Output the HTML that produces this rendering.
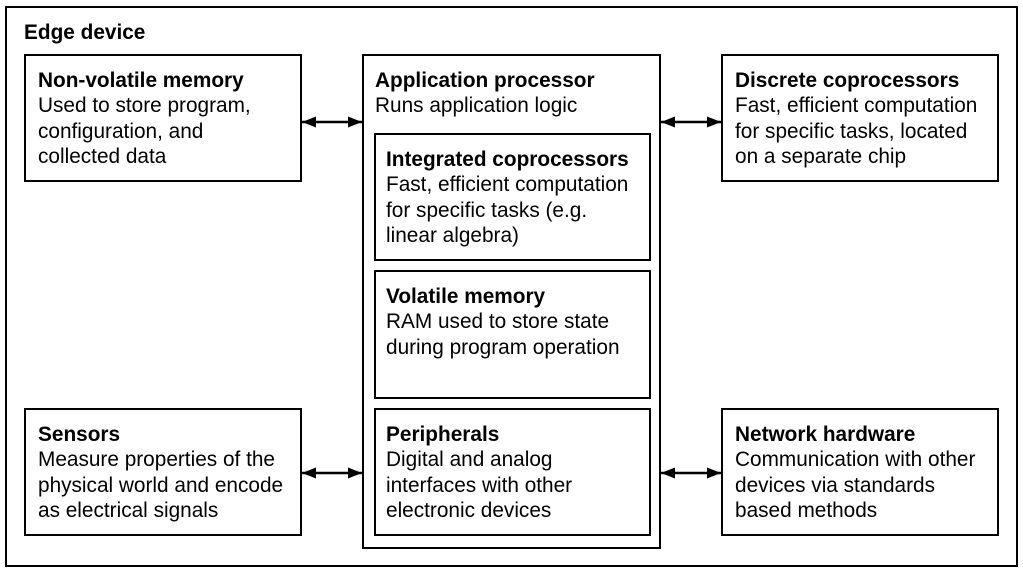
<!DOCTYPE html>
<html><head><meta charset="utf-8"><style>
html,body{margin:0;padding:0;background:#fff;}
svg{display:block;}
text{font-family:"Liberation Sans",Arial,sans-serif;font-size:20.8px;fill:#000;}
.b{font-weight:bold;}
</style></head><body>
<svg width="1023" height="573" viewBox="0 0 1023 573" xmlns="http://www.w3.org/2000/svg">
<defs>
<marker id="a" viewBox="0 0 14 12" refX="14" refY="6" markerWidth="14" markerHeight="12" markerUnits="userSpaceOnUse" orient="auto-start-reverse">
<path d="M0,0.5 L14,6 L0,11.5 z" fill="#000"/></marker>
</defs>
<g fill="none" stroke="#000" stroke-width="2">
<rect x="6" y="7" width="1011" height="559"/>
<rect x="25" y="55" width="276" height="126"/>
<rect x="25" y="409" width="276" height="126"/>
<rect x="722" y="55" width="276" height="126"/>
<rect x="722" y="409" width="276" height="126"/>
<rect x="363" y="55" width="297" height="493"/>
<rect x="375" y="134" width="275" height="126"/>
<rect x="375" y="271" width="275" height="127"/>
<rect x="375" y="409" width="275" height="126"/>
<line x1="302" y1="122" x2="362" y2="122" stroke-width="2.5" marker-start="url(#a)" marker-end="url(#a)"/>
<line x1="302" y1="473" x2="362" y2="473" stroke-width="2.5" marker-start="url(#a)" marker-end="url(#a)"/>
<line x1="661" y1="122" x2="721" y2="122" stroke-width="2.5" marker-start="url(#a)" marker-end="url(#a)"/>
<line x1="661" y1="473" x2="721" y2="473" stroke-width="2.5" marker-start="url(#a)" marker-end="url(#a)"/>
</g>
<text x="24" y="39" class="b">Edge device</text>

<text x="38" y="87" class="b">Non-volatile memory</text>
<text x="38" y="112">Used to store program,</text>
<text x="38" y="138">configuration, and</text>
<text x="38" y="163">collected data</text>

<text x="375" y="87" class="b">Application processor</text>
<text x="375" y="112">Runs application logic</text>

<text x="735" y="87" class="b">Discrete coprocessors</text>
<text x="735" y="112">Fast, efficient computation</text>
<text x="735" y="138">for specific tasks, located</text>
<text x="735" y="163">on a separate chip</text>

<text x="386" y="166" class="b">Integrated coprocessors</text>
<text x="386" y="191">Fast, efficient computation</text>
<text x="386" y="217">for specific tasks (e.g.</text>
<text x="386" y="242">linear algebra)</text>

<text x="386" y="303" class="b">Volatile memory</text>
<text x="386" y="328">RAM used to store state</text>
<text x="386" y="354">during program operation</text>

<text x="386" y="441" class="b">Peripherals</text>
<text x="386" y="466">Digital and analog</text>
<text x="386" y="492">interfaces with other</text>
<text x="386" y="517">electronic devices</text>

<text x="38" y="441" class="b">Sensors</text>
<text x="38" y="466">Measure properties of the</text>
<text x="38" y="492">physical world and encode</text>
<text x="38" y="517">as electrical signals</text>

<text x="735" y="441" class="b">Network hardware</text>
<text x="735" y="466">Communication with other</text>
<text x="735" y="492">devices via standards</text>
<text x="735" y="517">based methods</text>
</svg>
</body></html>
